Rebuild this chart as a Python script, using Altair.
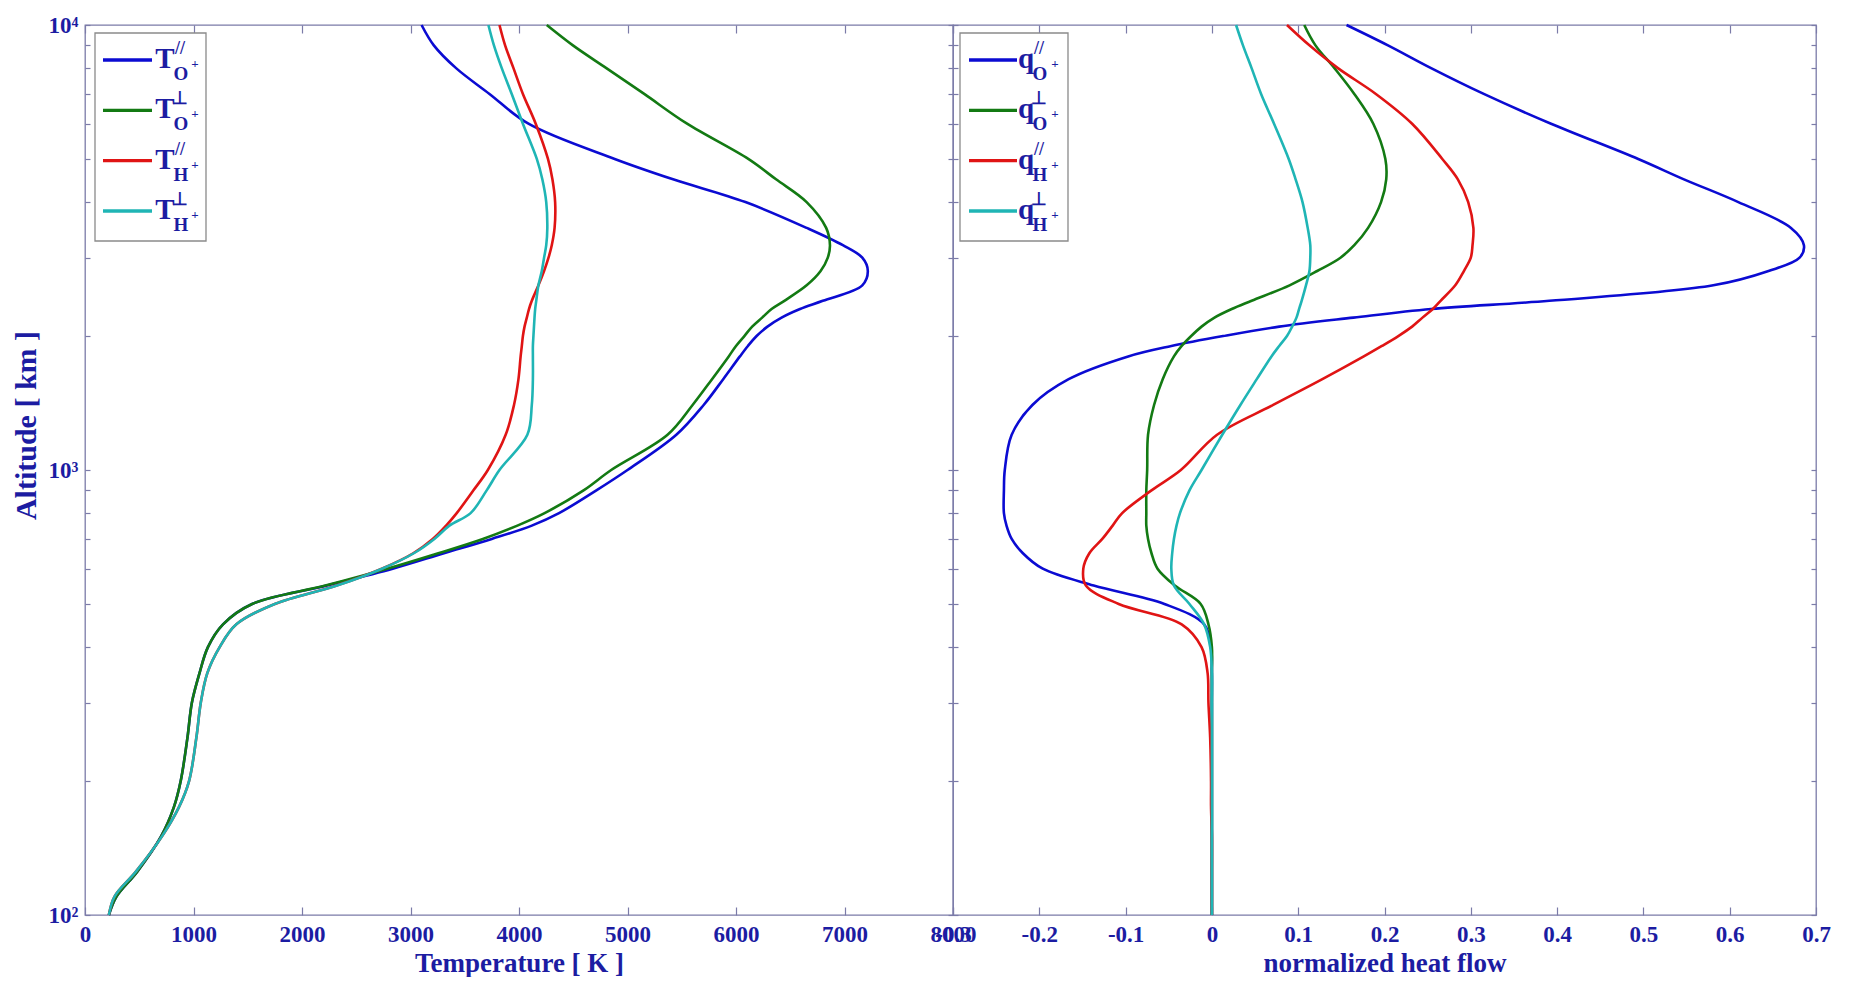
import altair as alt
import pandas as pd

# ---------------- data ----------------
altitude_km = [100, 110, 125, 150, 175, 200, 250, 300, 350, 400,
               450, 500, 550, 600, 650, 700, 750, 800, 900, 1000,
               1200, 1400, 1600, 1800, 1900, 2000, 2100, 2200, 2300, 2400,
               2600, 2800, 3000, 3200, 3500, 4000, 4500, 5000, 6000, 7000,
               8000, 9000, 10000]

# Temperatures [K]
T_O_par = [220, 290, 480, 700, 820, 882, 944, 985, 1056, 1133,
           1272, 1540, 2230, 2836, 3308, 3749, 4118, 4369, 4713, 5000,
           5450, 5702, 5882, 6036, 6110, 6190, 6290, 6420, 6590, 6800,
           7164, 7215, 7164, 6985, 6651, 6087, 5420, 4882, 4087, 3728,
           3420, 3215, 3102]
T_O_perp = [220, 290, 480, 700, 820, 882, 944, 985, 1056, 1133,
            1272, 1540, 2215, 2785, 3256, 3667, 3985, 4236, 4595, 4850,
            5369, 5600, 5779, 5933, 6000, 6077, 6149, 6241, 6328, 6446,
            6651, 6780, 6846, 6866, 6831, 6651, 6369, 6113, 5549, 5154,
            4805, 4497, 4256]
T_H_par = [220, 272, 467, 708, 867, 959, 1026, 1067, 1128, 1241,
           1395, 1749, 2318, 2735, 3025, 3205, 3328, 3426, 3580, 3713,
           3877, 3954, 3995, 4015, 4026, 4036, 4051, 4072, 4092, 4118,
           4179, 4231, 4272, 4302, 4328, 4333, 4308, 4267, 4154, 4036,
           3949, 3872, 3820]
T_H_perp = [220, 272, 467, 708, 867, 959, 1026, 1067, 1128, 1241,
            1395, 1749, 2323, 2738, 3031, 3220, 3359, 3554, 3702, 3820,
            4077, 4118, 4128, 4128, 4128, 4133, 4138, 4143, 4149, 4159,
            4179, 4210, 4231, 4251, 4261, 4251, 4215, 4164, 4036, 3933,
            3841, 3769, 3718]

# Normalized heat flows
q_O_par = [0, 0, 0, 0, 0, 0, 0, 0, 0, -0.001,
           -0.009, -0.055, -0.137, -0.196, -0.219, -0.232, -0.238, -0.241, -0.241, -0.240,
           -0.232, -0.208, -0.166, -0.097, -0.047, 0.013, 0.078, 0.164, 0.254, 0.391,
           0.581, 0.645, 0.681, 0.686, 0.671, 0.610, 0.547, 0.494, 0.393, 0.315,
           0.254, 0.204, 0.156]
q_O_perp = [0, 0, 0, 0, 0, 0, 0, 0, 0, 0,
            -0.004, -0.013, -0.043, -0.063, -0.070, -0.074, -0.076, -0.076, -0.076, -0.075,
            -0.074, -0.067, -0.057, -0.044, -0.035, -0.024, -0.012, 0.003, 0.023, 0.046,
            0.090, 0.122, 0.149, 0.165, 0.181, 0.196, 0.202, 0.201, 0.187, 0.165,
            0.142, 0.120, 0.107]
q_H_par = [0, 0, 0, 0, -0.001, -0.001, -0.002, -0.004, -0.005, -0.012,
           -0.035, -0.108, -0.146, -0.149, -0.142, -0.127, -0.115, -0.104, -0.070, -0.036,
           0.006, 0.071, 0.128, 0.176, 0.197, 0.216, 0.232, 0.244, 0.256, 0.265,
           0.282, 0.292, 0.300, 0.302, 0.303, 0.297, 0.285, 0.267, 0.232, 0.190,
           0.146, 0.113, 0.087]
q_H_perp = [0, 0, 0, 0, 0, 0, 0, 0, 0, -0.002,
            -0.009, -0.026, -0.044, -0.047, -0.046, -0.044, -0.041, -0.037, -0.026, -0.012,
            0.012, 0.033, 0.052, 0.069, 0.078, 0.087, 0.093, 0.098, 0.101, 0.104,
            0.109, 0.113, 0.114, 0.114, 0.111, 0.105, 0.097, 0.089, 0.072, 0.057,
            0.046, 0.036, 0.028]

series_keys = ["Opar", "Operp", "Hpar", "Hperp"]
series_colors = ["#0b0bd2", "#137a13", "#e01414", "#1fb5b5"]
sup_marks = ["//", "\u22a5", "//", "\u22a5"]
sub_ions = ["O", "O", "H", "H"]

T_ticks = [0, 1000, 2000, 3000, 4000, 5000, 6000, 7000, 8000]
q_ticks = [-0.3, -0.2, -0.1, 0, 0.1, 0.2, 0.3, 0.4, 0.5, 0.6, 0.7]
alt_major = [100, 1000, 10000]
alt_minor = [200, 300, 400, 500, 600, 700, 800, 900,
             2000, 3000, 4000, 5000, 6000, 7000, 8000, 9000]

FONT = "Liberation Serif"
TXT = "#1c1ca2"
AX = "#7b7ba8"
H = 890


def long_df(cols):
    rows = []
    for key, vals in zip(series_keys, cols):
        for h, v in zip(altitude_km, vals):
            rows.append({"series": key, "alt": h, "val": v})
    return pd.DataFrame(rows)


color = alt.Color("series:N", scale=alt.Scale(domain=series_keys, range=series_colors), legend=None)
yscale = alt.Scale(type="log", domain=[100, 10000], nice=False)
y_values = sorted(alt_major + alt_minor)
ylabel_expr = ("datum.value == 100 ? '10\u00b2' : datum.value == 1000 ? '10\u00b3' : "
               "datum.value == 10000 ? '10\u2074' : ''")


def panel(df, xdomain, xticks, xtitle, xlabel_expr, left_labels, letter,
          box_x, sw_x, main_x, sup_x, plus_x, width):
    xscale = alt.Scale(domain=xdomain, nice=False, zero=False)
    if left_labels:
        yaxis = alt.Axis(orient="left", values=y_values, labelExpr=ylabel_expr,
                         title="Altitude  [ km ]", titleFontSize=30, titleY=400,
                         offset=-5, tickSize=5, labelPadding=7,
                         titlePadding=7, domain=False, grid=False, labelOverlap=False)
    else:
        yaxis = alt.Axis(orient="left", values=y_values, labels=False, title=None,
                         offset=-5, tickSize=5, domain=False, grid=False)
    base = alt.Chart(df)
    lines = base.mark_line(strokeWidth=2.6, interpolate="catmull-rom").encode(
        x=alt.X("val:Q", scale=xscale,
                axis=alt.Axis(orient="bottom", values=xticks, title=xtitle, labelExpr=xlabel_expr,
                              offset=-8, tickSize=8, labelPadding=8, titlePadding=4,
                              labelFlush=False, labelOverlap=False, labelBound=False,
                              domain=False, grid=False)),
        y=alt.Y("alt:Q", scale=yscale, axis=yaxis),
        color=color,
        order=alt.Order("alt:Q"),
    )
    ticks = base.mark_line(opacity=0).encode(
        x=alt.X("val:Q", scale=xscale,
                axis=alt.Axis(orient="top", values=xticks, labels=False, title=None,
                              offset=-8, tickSize=8, domain=False, grid=False)),
        y=alt.Y("alt:Q", scale=yscale,
                axis=alt.Axis(orient="right", values=y_values, labels=False, title=None,
                              offset=-5, tickSize=5, domain=False, grid=False)),
        detail="series:N",
        order=alt.Order("alt:Q"),
    )
    leg_df = pd.DataFrame({"series": series_keys, "sup": sup_marks, "sub": sub_ions,
                           "main": [letter] * 4})
    legy = alt.Y("series:N", sort=series_keys,
                 scale=alt.Scale(type="point", domain=series_keys, range=[35, 186], padding=0),
                 axis=None)
    box = alt.Chart(pd.DataFrame({"k": [0]})).mark_rect(
        fill="white", stroke="#8a8a8a", strokeWidth=1.3).encode(
        x=alt.value(box_x[0]), x2=alt.value(box_x[1]), y=alt.value(8), y2=alt.value(216))
    swatch = alt.Chart(leg_df).mark_rule(strokeWidth=3.4).encode(
        x=alt.value(sw_x[0]), x2=alt.value(sw_x[1]), y=legy, color=color)
    txt = dict(font=FONT, fontWeight="bold", color=TXT, align="center", baseline="middle")
    main_t = alt.Chart(leg_df).mark_text(fontSize=29, dy=-1, **txt).encode(
        x=alt.value(main_x), y=legy, text="main:N")
    sup_t = alt.Chart(leg_df).mark_text(fontSize=18, dy=-11, **txt).encode(
        x=alt.value(sup_x), y=legy, text="sup:N")
    sub_t = alt.Chart(leg_df).mark_text(fontSize=19, dy=14, **txt).encode(
        x=alt.value(sup_x + 1), y=legy, text="sub:N")
    plus_t = alt.Chart(leg_df).mark_text(fontSize=13, dy=4, **txt).encode(
        x=alt.value(plus_x), y=legy, text=alt.value("+"))
    return alt.layer(lines, ticks, box, swatch, main_t, sup_t, sub_t, plus_t).resolve_scale(
        y="independent").resolve_axis(x="independent", y="independent").properties(
        width=width, height=H)


left = panel(long_df([T_O_par, T_O_perp, T_H_par, T_H_perp]), [0, 8000], T_ticks,
             "Temperature  [ K ]", "format(datum.value, 'd')", True, "T",
             (10, 121), (18, 67), 80, 95, 110, 868)
right = panel(long_df([q_O_par, q_O_perp, q_H_par, q_H_perp]), [-0.3, 0.7], q_ticks,
              "normalized heat flow",
              "replace(format(datum.value, '~g'), '\u2212', '-')", False, "q",
              (7, 115), (16, 64), 73, 86, 102, 863)

chart = alt.hconcat(left, right, spacing=0, bounds="flush").resolve_scale(
    x="independent", y="independent").properties(
    padding={"left": 2, "top": 5, "right": 5, "bottom": 0},
    background="white",
).configure_view(stroke=AX, strokeWidth=1.3).configure_axis(
    labelFont=FONT, labelFontWeight="bold", labelFontSize=23, labelColor=TXT,
    titleFont=FONT, titleFontWeight="bold", titleFontSize=27, titleColor=TXT,
    tickColor=AX, tickWidth=1.2,
)

chart.save("out.html", embed_options={"renderer": "svg", "actions": False})
